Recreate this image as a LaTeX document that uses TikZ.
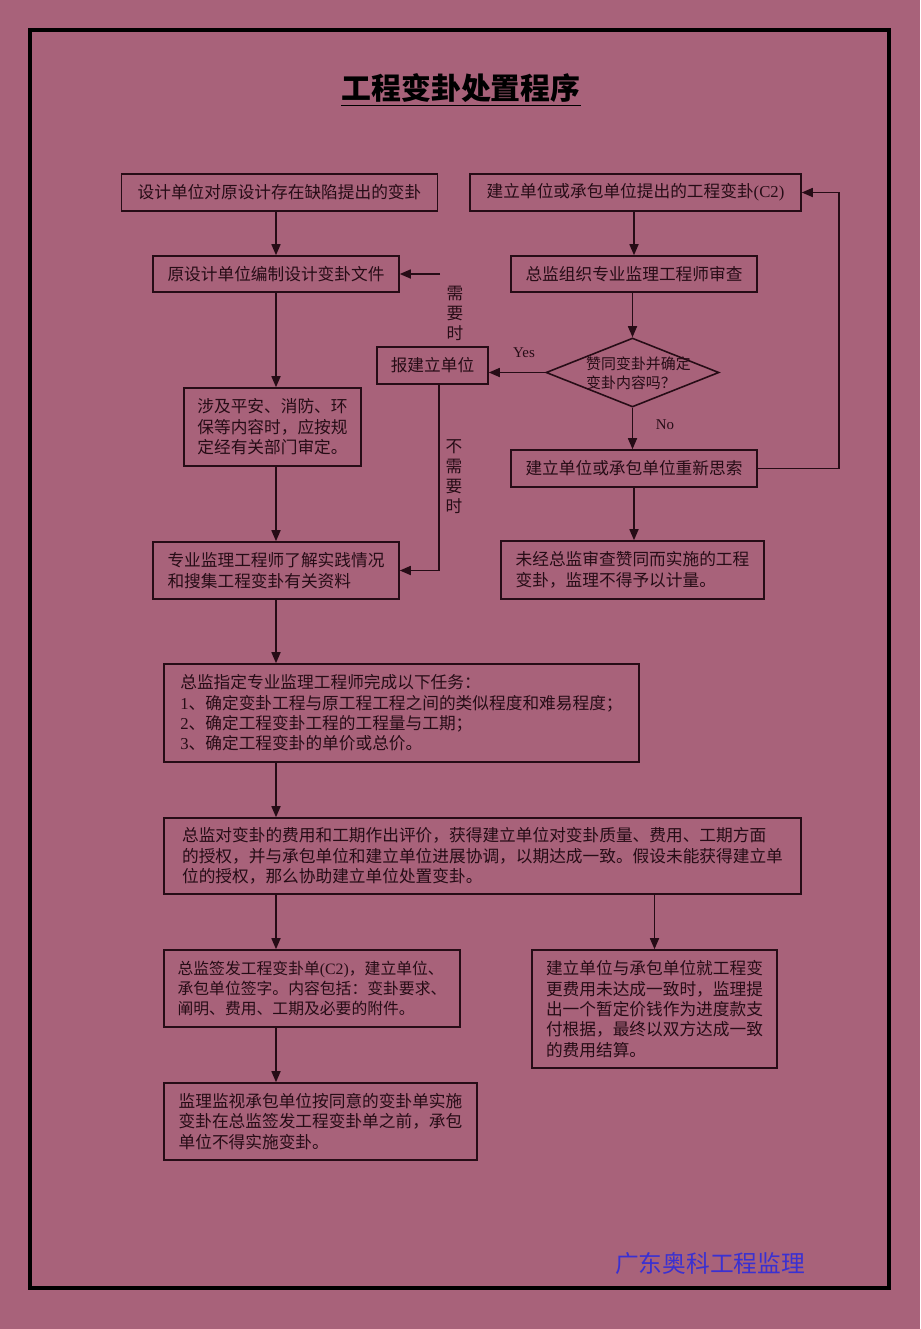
\documentclass[tikz,border=0pt]{standalone}
\usepackage{fontspec}
\setmainfont{Liberation Serif}
\newfontfamily\cjk{Noto Sans CJK SC}
\newfontfamily\serifen{Liberation Serif}
\usetikzlibrary{shapes.geometric, arrows.meta, positioning, calc}

\definecolor{bg}{RGB}{168,98,122}
\definecolor{ink}{RGB}{38,12,22}
\definecolor{footblue}{RGB}{58,48,210}

\tikzset{
  box/.style={rectangle,draw=ink,line width=0.9pt,text=ink,inner sep=0pt,
    font=\cjk\fontsize{9.5}{11.6}\selectfont},
  arr/.style={draw=ink,line width=0.9pt,-{Triangle[length=2.2mm,width=1.8mm]}},
  lbl/.style={text=ink,inner sep=0pt,align=center,
    font=\cjk\fontsize{9.5}{11.4}\selectfont},
}

\begin{document}
\begin{tikzpicture}[x=0.02cm,y=-0.02cm]
    % Hintergrund und Rahmen
    \fill[bg] (0,0) rectangle (920,1329);
    \draw[line width=2pt,black] (30,30) rectangle (889,1288);

    % Titel
    \node[font=\cjk\bfseries\fontsize{17}{20}\selectfont,text=black,inner sep=0pt] (biaoti) at (461,88) {工程变卦处置程序};
    \draw[line width=1pt,black] ([yshift=-1.5pt]biaoti.south west) -- ([yshift=-1.5pt]biaoti.south east);

    % obere Reihe
    \node[box,minimum width=6.32cm,minimum height=0.74cm] (sheji) at (279.5,192.5) {设计单位对原设计存在缺陷提出的变卦};
    \node[box,minimum width=6.62cm,minimum height=0.74cm] (tichu) at (635.5,192.5) {建立单位或承包单位提出的工程变卦{\serifen (C2)}};
    \node[box,minimum width=4.92cm,minimum height=0.72cm] (bianzhi) at (276,274) {原设计单位编制设计变卦文件};
    \node[box,minimum width=4.92cm,minimum height=0.72cm] (shencha) at (634,274) {总监组织专业监理工程师审查};

    % Entscheidung
    \node[box,minimum width=2.22cm,minimum height=0.74cm] (baojian) at (432.5,365.5) {报建立单位};
    \node[diamond,draw=ink,line width=0.9pt,inner sep=0pt,
      minimum width=3.46cm,minimum height=1.38cm] (zantong) at (632.5,372.5) {};
    \node[text=ink,inner sep=0pt,align=left,
      font=\cjk\fontsize{8.5}{10.8}\selectfont] (frage) at (638.5,373.5) {赞同变卦并确定\\变卦内容吗？};
    \node[box,minimum width=4.92cm,minimum height=0.74cm] (chongxin) at (634,468.5) {建立单位或承包单位重新思索};
    \node[text=ink,inner sep=0pt,font=\serifen\fontsize{8.5}{10}\selectfont] (yes) at (524,353) {Yes};
    \node[text=ink,inner sep=0pt,font=\serifen\fontsize{8.5}{10}\selectfont] (no) at (665,425) {No};
    \node[lbl] (xuyao) at (455,313) {需\\要\\时};
    \node[lbl] (buxuyao) at (454,477) {不\\需\\要\\时};

    % mittlere Boxen
    \node[box,minimum width=3.54cm,minimum height=1.56cm,align=left] (shehe) at (272.5,427) {涉及平安、消防、环\\保等内容时，应按规\\定经有关部门审定。};
    \node[box,minimum width=4.92cm,minimum height=1.14cm,align=left] (liaojie) at (276,570.5) {专业监理工程师了解实践情况\\和搜集工程变卦有关资料};
    \node[box,minimum width=5.26cm,minimum height=1.16cm,align=left] (weijing) at (632.5,570) {未经总监审查赞同而实施的工程\\变卦，监理不得予以计量。};

    % grosse Boxen
    \node[box,minimum width=9.5cm,minimum height=1.96cm,align=left] (renwu) at (401.5,713) {总监指定专业监理工程师完成以下任务：\\{\serifen 1}、确定变卦工程与原工程工程之间的类似程度和难易程度；\\{\serifen 2}、确定工程变卦工程的工程量与工期；\\{\serifen 3}、确定工程变卦的单价或总价。};
    \node[box,minimum width=12.74cm,minimum height=1.52cm,align=left] (pingjia) at (482.5,856) {总监对变卦的费用和工期作出评价，获得建立单位对变卦质量、费用、工期方面\\的授权，并与承包单位和建立单位进展协调，以期达成一致。假设未能获得建立单\\位的授权，那么协助建立单位处置变卦。};

    % untere Boxen
    \node[box,minimum width=5.92cm,minimum height=1.54cm,align=left,
      font=\cjk\fontsize{9}{11.6}\selectfont] (qianfa) at (312,988.5) {总监签发工程变卦单{\serifen (C2)}，建立单位、\\承包单位签字。内容包括：变卦要求、\\阐明、费用、工期及必要的附件。};
    \node[box,minimum width=4.9cm,minimum height=2.36cm,align=left] (jiesuan) at (654.5,1009) {建立单位与承包单位就工程变\\更费用未达成一致时，监理提\\出一个暂定价钱作为进度款支\\付根据，最终以双方达成一致\\的费用结算。};
    \node[box,minimum width=6.26cm,minimum height=1.54cm,align=left] (jianshi) at (320.5,1121.5) {监理监视承包单位按同意的变卦单实施\\变卦在总监签发工程变卦单之前，承包\\单位不得实施变卦。};

    % Fusszeile
    \node[font=\cjk\fontsize{13.5}{16}\selectfont,text=footblue,inner sep=0pt] (gongsi) at (710,1264) {广东奥科工程监理};

    % Pfeile
    \coordinate (ruko) at (440,274);
    \draw[arr] (bianzhi.north |- sheji.south) -- (bianzhi.north);
    \draw[arr] (shencha.north |- tichu.south) -- (shencha.north);
    \draw[arr] (ruko) -- (bianzhi.east);
    \draw[arr] (bianzhi.south) -- (shehe.north -| bianzhi.south);
    \draw[arr] (zantong.north |- shencha.south) -- (zantong.north);
    \draw[arr] (zantong.west) -- (zantong.west -| baojian.east);
    \draw[arr] (zantong.south) -- (chongxin.north -| zantong.south);
    \draw[arr] (chongxin.east) -- ++(81,0) |- (tichu.east);
    \draw[arr] (shehe.south -| bianzhi.south) -- (liaojie.north);
    \draw[arr] ([xshift=0.13cm]baojian.south) |- (liaojie.east);
    \draw[arr] (chongxin.south) -- (weijing.north -| chongxin.south);
    \draw[arr] (liaojie.south) -- (renwu.north -| liaojie.south);
    \draw[arr] (renwu.south -| liaojie.south) -- (pingjia.north -| liaojie.south);
    \draw[arr] (pingjia.south -| liaojie.south) -- (qianfa.north -| liaojie.south);
    \draw[arr] (pingjia.south -| jiesuan.north) -- (jiesuan.north);
    \draw[arr] (qianfa.south -| liaojie.south) -- (jianshi.north -| liaojie.south);
\end{tikzpicture}
\end{document}
